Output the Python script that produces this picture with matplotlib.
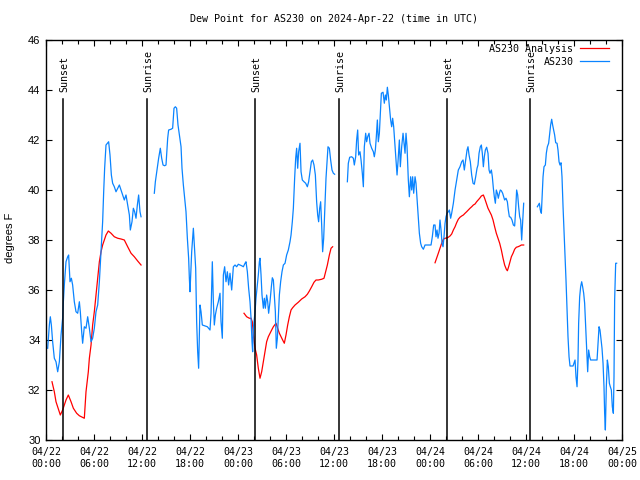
import matplotlib
matplotlib.use("Agg")
import matplotlib.pyplot as plt
from matplotlib.ticker import MultipleLocator, FixedLocator
import numpy as np

# Hours since 2024-04-22 00:00 UTC, dew point in degrees F
STATION_SEGMENTS = [
    [(0.21, 33.67), (0.42, 34.6), (0.54, 34.93), (0.67, 34.6), (0.83, 33.93), (1.04, 33.27), (1.25, 33.13),
     (1.46, 32.73), (1.67, 33.13), (1.88, 34.2), (2.08, 34.87), (2.17, 35.53), (2.29, 36.2), (2.5, 37.13),
     (2.71, 37.33), (2.83, 37.4), (3.0, 36.33), (3.17, 36.47), (3.33, 36.2), (3.54, 35.53), (3.75, 35.13),
     (3.96, 35.07), (4.17, 35.53), (4.29, 35.13), (4.46, 34.33), (4.58, 33.87), (4.79, 34.53), (5.0, 34.47),
     (5.21, 34.93), (5.42, 34.47), (5.63, 33.93), (5.83, 34.07), (6.04, 34.47), (6.25, 35.13), (6.46, 35.4),
     (6.67, 36.33), (6.88, 37.53), (7.08, 38.73), (7.21, 39.93), (7.33, 40.87), (7.5, 41.8), (7.67, 41.87),
     (7.83, 41.93), (8.0, 41.4), (8.17, 40.6), (8.33, 40.27), (8.54, 40.13), (8.75, 39.93), (8.96, 40.07),
     (9.17, 40.2), (9.38, 40.0), (9.58, 39.8), (9.79, 39.6), (10.0, 39.8), (10.21, 39.4), (10.42, 39.0),
     (10.54, 38.4), (10.75, 38.73), (10.92, 39.27), (11.08, 39.13), (11.25, 38.87), (11.42, 39.4),
     (11.58, 39.8), (11.75, 39.13), (11.88, 38.93)],
    [(13.54, 39.87), (13.67, 40.33), (13.88, 40.8), (14.08, 41.27), (14.29, 41.67), (14.46, 41.27),
     (14.63, 41.0), (14.83, 40.97), (15.0, 41.0), (15.21, 42.07), (15.33, 42.4), (15.63, 42.43),
     (15.83, 42.47), (16.0, 43.27), (16.17, 43.33), (16.33, 43.27), (16.5, 42.6), (16.67, 42.2),
     (16.88, 41.73), (17.0, 40.87), (17.17, 40.2), (17.33, 39.67), (17.5, 39.13), (17.67, 38.07),
     (17.83, 37.27), (17.92, 36.47), (18.0, 35.93), (18.21, 37.53), (18.42, 38.47), (18.54, 37.8),
     (18.71, 36.87), (18.83, 34.73), (18.96, 33.53), (19.08, 32.87), (19.25, 35.4), (19.38, 35.13),
     (19.54, 34.6), (19.88, 34.56), (20.17, 34.53), (20.5, 34.4), (20.63, 35.07), (20.79, 37.13),
     (20.92, 35.53), (21.04, 34.6), (21.17, 35.0), (21.33, 35.27), (21.54, 35.53), (21.75, 35.87),
     (21.88, 34.73), (22.04, 34.07), (22.17, 36.6), (22.33, 36.93), (22.5, 36.33), (22.67, 36.73),
     (22.83, 36.2), (23.0, 36.67), (23.21, 36.0), (23.42, 36.93), (23.63, 37.0), (23.83, 36.93),
     (24.04, 37.03), (24.25, 37.0), (24.46, 36.97), (24.67, 36.93), (24.88, 37.07), (25.0, 37.13),
     (25.17, 36.73), (25.33, 36.07), (25.5, 35.53), (25.63, 34.87), (25.75, 33.93), (25.83, 33.53),
     (25.92, 34.47), (26.13, 35.13), (26.25, 35.67), (26.42, 36.2), (26.54, 36.6), (26.67, 37.13),
     (26.75, 37.27), (26.88, 36.6), (27.0, 35.8), (27.17, 35.27), (27.29, 35.67), (27.42, 35.27),
     (27.58, 35.8), (27.71, 35.53), (27.83, 35.07), (28.0, 35.53), (28.17, 36.13), (28.29, 36.49),
     (28.42, 36.4), (28.54, 35.8), (28.67, 35.13), (28.79, 33.67), (28.92, 34.07), (29.04, 34.87),
     (29.17, 35.8), (29.33, 36.33), (29.5, 36.73), (29.67, 37.0), (29.88, 37.07), (30.08, 37.4),
     (30.29, 37.6), (30.5, 37.93), (30.63, 38.2), (30.79, 38.73), (30.92, 39.27), (31.08, 40.47),
     (31.21, 41.27), (31.33, 41.67), (31.46, 40.87), (31.58, 41.53), (31.75, 41.87), (31.88, 40.73),
     (32.04, 40.4), (32.25, 40.33), (32.46, 40.27), (32.67, 40.13), (32.83, 40.33), (33.0, 40.73),
     (33.17, 41.13), (33.33, 41.2), (33.5, 41.0), (33.67, 40.6), (33.83, 39.53), (33.96, 39.0),
     (34.08, 38.73), (34.21, 39.27), (34.33, 39.53), (34.46, 38.6), (34.58, 37.53), (34.71, 38.07),
     (34.88, 39.53), (35.0, 40.47), (35.13, 41.13), (35.25, 41.73), (35.42, 41.67), (35.58, 41.2),
     (35.75, 40.8), (35.92, 40.67), (36.08, 40.63)],
    [(37.67, 40.33), (37.79, 41.07), (37.96, 41.31), (38.21, 41.33), (38.42, 41.27), (38.54, 41.0),
     (38.71, 41.33), (38.83, 42.0), (38.96, 42.4), (39.08, 41.4), (39.25, 41.53), (39.38, 41.2),
     (39.54, 40.67), (39.67, 40.13), (39.79, 41.73), (39.96, 42.27), (40.08, 41.93), (40.21, 42.13),
     (40.38, 42.27), (40.5, 41.87), (40.71, 41.67), (40.92, 41.53), (41.04, 41.33), (41.17, 41.6),
     (41.29, 42.13), (41.42, 42.8), (41.54, 41.93), (41.67, 42.27), (41.79, 43.07), (41.92, 43.87),
     (42.13, 43.91), (42.29, 43.47), (42.42, 43.8), (42.54, 43.6), (42.67, 44.11), (42.79, 43.8),
     (42.92, 43.33), (43.08, 42.8), (43.21, 42.53), (43.33, 42.87), (43.46, 42.53), (43.63, 41.73),
     (43.75, 41.13), (43.88, 40.6), (44.0, 41.13), (44.17, 42.0), (44.29, 40.93), (44.46, 41.73),
     (44.63, 42.27), (44.75, 41.87), (44.88, 41.47), (45.0, 42.27), (45.13, 41.73), (45.29, 40.4),
     (45.42, 39.73), (45.58, 40.53), (45.71, 40.0), (45.83, 40.53), (45.96, 39.87), (46.13, 40.53),
     (46.25, 40.27), (46.42, 39.47), (46.54, 38.93), (46.67, 38.27), (46.83, 37.87), (46.96, 37.73),
     (47.17, 37.63), (47.38, 37.8), (47.79, 37.8), (48.13, 37.8), (48.29, 38.13), (48.46, 38.6),
     (48.63, 38.6), (48.75, 38.13), (48.88, 38.4), (49.0, 38.07), (49.13, 38.27), (49.25, 38.8),
     (49.38, 38.4), (49.5, 37.87), (49.63, 37.73), (49.75, 38.13), (49.88, 38.67), (50.0, 38.93),
     (50.13, 39.07), (50.29, 39.13), (50.42, 39.2), (50.58, 38.87), (50.71, 39.07), (50.92, 39.47),
     (51.13, 40.0), (51.33, 40.4), (51.54, 40.8), (51.75, 40.93), (51.96, 41.13), (52.13, 41.2),
     (52.29, 40.8), (52.46, 41.2), (52.63, 41.6), (52.75, 41.73), (52.88, 41.4), (53.04, 41.13),
     (53.21, 40.6), (53.38, 40.27), (53.54, 40.23), (53.71, 40.53), (53.88, 40.87), (54.0, 41.0),
     (54.13, 41.47), (54.29, 41.73), (54.42, 41.8), (54.54, 41.47), (54.67, 40.93), (54.79, 41.33),
     (54.92, 41.6), (55.08, 41.71), (55.25, 41.47), (55.38, 40.8), (55.5, 40.67), (55.67, 40.8),
     (55.79, 40.53), (55.92, 40.07), (56.04, 39.73), (56.17, 39.47), (56.29, 40.0), (56.42, 39.87),
     (56.54, 39.67), (56.67, 39.87), (56.79, 40.0), (56.92, 39.97), (57.08, 39.87), (57.21, 39.73),
     (57.33, 39.6), (57.5, 39.67), (57.67, 39.53), (57.79, 39.2), (57.92, 38.93), (58.08, 38.91),
     (58.25, 38.8), (58.42, 38.6), (58.58, 38.56), (58.71, 39.2), (58.83, 40.0), (58.96, 39.8),
     (59.08, 39.33), (59.21, 38.93), (59.33, 38.8), (59.46, 38.0), (59.58, 38.67), (59.71, 39.47)],
    [(61.42, 39.33), (61.54, 39.4), (61.67, 39.47), (61.79, 39.2), (61.92, 39.07), (62.0, 39.6),
     (62.13, 40.53), (62.25, 40.93), (62.42, 41.0), (62.54, 41.47), (62.67, 41.73), (62.83, 41.87),
     (62.96, 42.27), (63.08, 42.6), (63.21, 42.83), (63.33, 42.6), (63.46, 42.4), (63.58, 42.2),
     (63.71, 41.89), (63.88, 41.87), (64.0, 41.6), (64.13, 41.13), (64.25, 41.0), (64.38, 41.09),
     (64.5, 40.53), (64.63, 39.33), (64.75, 38.4), (64.88, 37.47), (65.0, 36.4), (65.13, 35.2),
     (65.25, 34.13), (65.38, 33.33), (65.5, 32.96), (65.67, 32.96), (65.88, 32.96), (66.0, 33.07),
     (66.13, 33.2), (66.25, 32.53), (66.38, 32.13), (66.5, 33.2), (66.58, 34.67), (66.71, 35.73),
     (66.83, 36.13), (66.96, 36.33), (67.08, 36.13), (67.21, 35.87), (67.33, 35.47), (67.46, 34.53),
     (67.58, 33.6), (67.71, 32.73), (67.83, 33.6), (67.96, 33.33), (68.08, 33.2), (68.29, 33.2),
     (68.58, 33.2), (68.88, 33.2), (69.0, 33.87), (69.13, 34.53), (69.25, 34.4), (69.38, 34.0),
     (69.5, 33.67), (69.63, 33.07), (69.75, 32.13), (69.83, 31.07), (69.92, 30.4), (70.04, 32.13),
     (70.17, 33.2), (70.29, 32.93), (70.42, 32.27), (70.54, 32.13), (70.67, 32.0), (70.79, 31.33),
     (70.92, 31.07), (71.0, 32.53), (71.08, 35.6), (71.21, 37.07), (71.33, 37.07)],
]

ANALYSIS_SEGMENTS = [
    [(0.75, 32.33), (1.04, 31.93), (1.25, 31.53), (1.58, 31.2), (1.79, 31.0), (2.08, 31.2), (2.29, 31.4),
     (2.5, 31.6), (2.79, 31.8), (3.13, 31.53), (3.42, 31.27), (3.83, 31.07), (4.17, 30.97), (4.79, 30.87),
     (5.0, 31.93), (5.29, 32.73), (5.42, 33.27), (5.63, 33.8), (5.83, 34.6), (6.04, 35.13), (6.25, 35.8),
     (6.46, 36.47), (6.67, 37.13), (6.88, 37.53), (7.08, 37.8), (7.29, 38.0), (7.5, 38.2), (7.79, 38.36),
     (8.13, 38.27), (8.54, 38.13), (8.96, 38.07), (9.38, 38.04), (9.79, 38.0), (10.21, 37.73),
     (10.63, 37.47), (11.04, 37.33), (11.46, 37.16), (11.88, 37.0)],
    [(24.75, 35.07), (25.08, 34.93), (25.42, 34.87), (25.63, 34.87), (25.79, 34.73), (25.92, 34.2),
     (26.13, 33.67), (26.33, 33.4), (26.54, 32.87), (26.75, 32.47), (26.96, 32.73), (27.17, 33.13),
     (27.38, 33.53), (27.58, 33.93), (27.79, 34.13), (28.0, 34.27), (28.21, 34.4), (28.42, 34.53),
     (28.75, 34.67), (28.96, 34.47), (29.17, 34.27), (29.38, 34.13), (29.58, 34.0), (29.79, 33.87),
     (30.0, 34.2), (30.21, 34.6), (30.42, 34.93), (30.63, 35.2), (30.83, 35.29), (31.13, 35.4),
     (31.54, 35.51), (31.96, 35.64), (32.38, 35.73), (32.67, 35.83), (32.92, 35.96), (33.21, 36.13),
     (33.5, 36.31), (33.75, 36.4), (34.04, 36.4), (34.46, 36.43), (34.75, 36.47), (34.96, 36.73),
     (35.17, 37.0), (35.42, 37.4), (35.63, 37.67), (35.83, 37.73)],
    [(48.63, 37.09), (48.83, 37.27), (49.04, 37.47), (49.25, 37.67), (49.46, 37.87), (49.67, 38.03),
     (49.88, 38.07), (50.08, 38.08), (50.29, 38.11), (50.5, 38.16), (50.71, 38.24), (50.92, 38.4),
     (51.13, 38.53), (51.33, 38.69), (51.54, 38.83), (51.75, 38.91), (51.96, 38.96), (52.17, 39.0),
     (52.38, 39.07), (52.58, 39.13), (52.79, 39.2), (53.0, 39.27), (53.21, 39.33), (53.42, 39.4),
     (53.63, 39.44), (53.83, 39.53), (54.21, 39.67), (54.42, 39.76), (54.67, 39.8), (54.83, 39.67),
     (55.04, 39.47), (55.25, 39.27), (55.46, 39.13), (55.67, 39.0), (55.88, 38.8), (56.08, 38.53),
     (56.29, 38.27), (56.5, 38.07), (56.71, 37.87), (56.92, 37.6), (57.13, 37.27), (57.33, 37.0),
     (57.54, 36.83), (57.67, 36.77), (57.83, 36.93), (58.0, 37.13), (58.17, 37.33), (58.38, 37.47),
     (58.58, 37.63), (58.79, 37.71), (59.0, 37.73), (59.21, 37.76), (59.42, 37.8), (59.71, 37.8)],
]

SUN_EVENTS = [("Sunset", 2.16), ("Sunrise", 12.66), ("Sunset", 26.16),
              ("Sunrise", 36.66), ("Sunset", 50.16), ("Sunrise", 60.54)]
SUN_LINE_TOP = 43.63
SUN_LABEL_Y = 43.92

X_TICKS = [0, 6, 12, 18, 24, 30, 36, 42, 48, 54, 60, 66, 72]
X_TICK_LABELS = ["04/22\n00:00", "04/22\n06:00", "04/22\n12:00", "04/22\n18:00",
                 "04/23\n00:00", "04/23\n06:00", "04/23\n12:00", "04/23\n18:00",
                 "04/24\n00:00", "04/24\n06:00", "04/24\n12:00", "04/24\n18:00",
                 "04/25\n00:00"]
Y_TICKS = [30, 32, 34, 36, 38, 40, 42, 44, 46]

TITLE = "Dew Point for AS230 on 2024-Apr-22 (time in UTC)"
BLUE = "#0a84ff"
RED = "#ff0000"
MONO = "DejaVu Sans Mono"
SANS = "Liberation Sans"

def join(segments):
    xs, ys = [], []
    for i, seg in enumerate(segments):
        if i:
            xs.append(np.nan); ys.append(np.nan)
        for h, v in seg:
            xs.append(h); ys.append(v)
    return np.array(xs), np.array(ys)

fig = plt.figure(figsize=(6.4, 4.8), dpi=100)
ax = fig.add_axes([46/640, 40/480, 576/640, 400/480])

ax.set_xlim(0, 72)
ax.set_ylim(30, 46)

ax_x, ax_y = join(ANALYSIS_SEGMENTS)
st_x, st_y = join(STATION_SEGMENTS)
ax.plot(ax_x, ax_y, color=RED, lw=0.9, label="AS230 Analysis")
ax.plot(st_x, st_y, color=BLUE, lw=0.9, label="AS230")

for name, h in SUN_EVENTS:
    ax.plot([h, h], [30, SUN_LINE_TOP], color="black", lw=1.1)
    ax.text(h + 0.15, SUN_LABEL_Y, name, rotation=90, ha="center", va="bottom",
            fontsize=7.2, family=MONO)

ax.xaxis.set_major_locator(FixedLocator(X_TICKS))
ax.set_xticklabels(X_TICK_LABELS, family=MONO, fontsize=7.2)
ax.xaxis.set_minor_locator(MultipleLocator(2))
ax.yaxis.set_major_locator(FixedLocator(Y_TICKS))
ax.set_yticklabels([str(t) for t in Y_TICKS], family=SANS, fontsize=8)
ax.tick_params(which="both", direction="in", top=True, right=True, width=0.8, colors="black")
ax.tick_params(which="major", length=4.0, pad=4)
ax.tick_params(axis="x", which="major", pad=5)
ax.tick_params(which="minor", length=2.6)
for s in ax.spines.values():
    s.set_linewidth(1.0)

ax.set_ylabel("degrees F", family=SANS, fontsize=8, va="center")
ax.yaxis.set_label_coords(-0.0625, 0.505)
fig.text(334/640, 1 - 19/480, TITLE, ha="center", va="center", family=MONO, fontsize=7.2)

leg = ax.legend(loc="upper right", markerfirst=False, frameon=False,
                prop={"family": MONO, "size": 7.2}, handlelength=2.9, handletextpad=0.7,
                labelspacing=0.3, borderaxespad=0.2, borderpad=0.2, bbox_to_anchor=(0.985, 1.0))

fig.savefig("out.png", dpi=100)
